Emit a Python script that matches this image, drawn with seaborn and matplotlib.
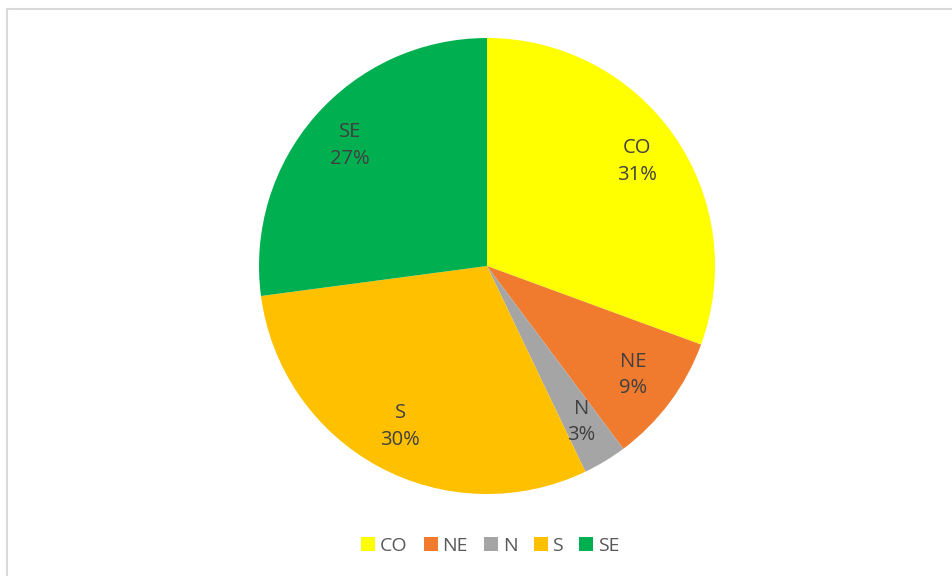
import matplotlib
matplotlib.use("Agg")
import matplotlib.pyplot as plt
import seaborn as sns
from matplotlib.patches import Rectangle
from matplotlib.lines import Line2D

sns.set_theme(style="white")
plt.rcParams['font.family'] = ['Open Sans', 'DejaVu Sans']

# Data
regions = ["CO", "NE", "N", "S", "SE"]
shares = [30.6, 9.2, 3.1, 30.0, 27.1]
colors = ["#FFFF00", "#F07B2F", "#A5A5A5", "#FFC000", "#00B050"]

W, H = 952, 576
fig = plt.figure(figsize=(W / 100, H / 100), dpi=100)

# light border of the chart area (top/left visible)
fig.patches.append(Rectangle((7 / W, -0.1), 1.2, (H - 9) / H + 0.1, transform=fig.transFigure,
                             fill=False, edgecolor="#D9D9D9", linewidth=1.5))

cx, cy, r = 487, 266, 228
ax = fig.add_axes([(cx - r) / W, (H - cy - r) / H, 2 * r / W, 2 * r / H])

total = sum(shares)
labels = [f"{c}\n{v / total * 100:.0f}%" for c, v in zip(regions, shares)]
wedges, texts = ax.pie(shares, colors=colors, startangle=90, counterclock=False,
                       labels=labels, labeldistance=0.8, radius=1,
                       wedgeprops={"linewidth": 0})
for t in texts:
    t.set_ha("center")
    t.set_va("center")
    t.set_color("#404040")
    t.set_fontsize(14.5)
    t.set_linespacing(1.45)
ax.set_xlim(-1, 1)
ax.set_ylim(-1, 1)
ax.set_aspect("equal")
ax.axis("off")

handles = [Line2D([], [], marker="s", linestyle="", markersize=10, markerfacecolor=c,
                  markeredgewidth=0) for c in colors]
fig.legend(handles, regions, loc="center", bbox_to_anchor=(490 / W, 1 - 546 / H), ncol=5,
           frameon=False, fontsize=14, handlelength=0.8, handletextpad=0.2, columnspacing=0.8,
           labelcolor="#595959")

fig.savefig("out.png", dpi=100)
